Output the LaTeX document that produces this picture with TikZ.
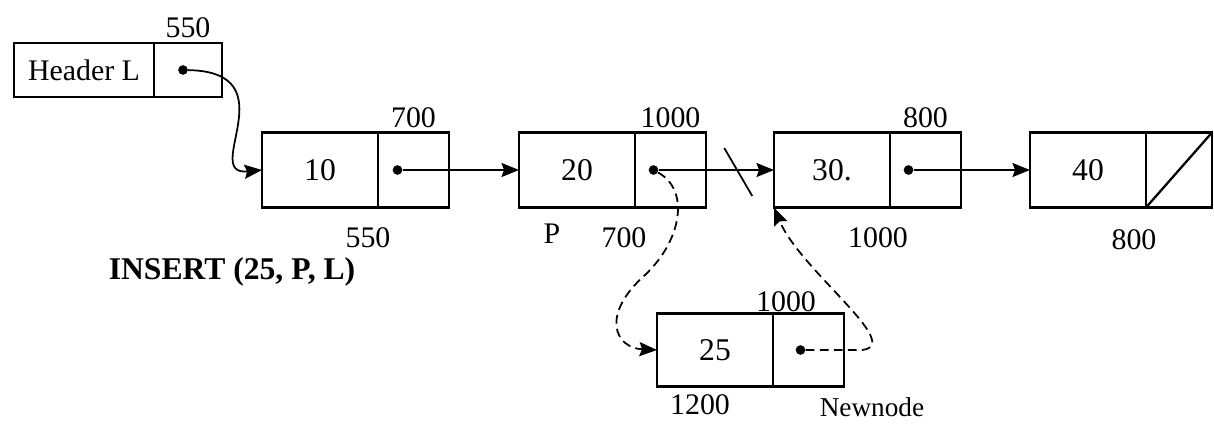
\documentclass[tikz,border=0pt]{standalone}
\usepackage{fontspec}
\setmainfont{Liberation Serif}
\usetikzlibrary{positioning,arrows.meta}

\begin{document}
\begin{tikzpicture}[
  x=0.2mm, y=-0.2mm,
  cell/.style={draw, line width=1.3pt, outer sep=0pt, inner sep=0pt, minimum height=1.5cm},
  data/.style={cell, minimum width=2.32cm, font=\fontsize{18}{20}\selectfont},
  ptr/.style={cell, minimum width=1.42cm},
  dot/.style={circle, fill, inner sep=0pt, minimum size=5.5pt},
  addr/.style={font=\fontsize{17}{19}\selectfont, inner sep=1pt},
  link/.style={-{Stealth[length=10pt, width=8pt, inset=1.5pt]}, line width=1pt},
  newlink/.style={link, dash pattern=on 5pt off 3pt},
]
\useasboundingbox (0,0) rectangle (1214,423);

% Header cell of list L.
\node[cell, minimum width=2.8cm, minimum height=1.08cm, font=\fontsize{17}{19}\selectfont] (hdr) at (84,70) {Header L};
\node[ptr, minimum width=1.36cm, minimum height=1.08cm, right=0pt of hdr] (hptr) {};
\node[dot] (hdot) at ([xshift=-1mm]hptr.center) {};

% The four list nodes, left to right.
\node[data] (d10) at (320,170) {10};
\node[ptr, right=0pt of d10] (p10) {};
\node[data] (d20) at (577,170) {20};
\node[ptr, right=0pt of d20] (p20) {};
\node[data] (d30) at (832,170) {30.};
\node[ptr, right=0pt of d30] (p30) {};
\node[data] (d40) at (1088,170) {40};
\node[ptr, minimum width=1.32cm, right=0pt of d40] (p40) {};
\draw[line width=1.3pt] (p40.south west) -- (p40.north east);

% The new node.
\node[data, minimum height=1.46cm] (d25) at (715,350) {25};
\node[ptr, minimum height=1.46cm, right=0pt of d25] (p25) {};

% Pointer dots.
\node[dot] (dot10) at ([xshift=-3.2mm]p10.center) {};
\node[dot] (dot20) at ([xshift=-3.4mm]p20.center) {};
\node[dot] (dot30) at ([xshift=-3.4mm]p30.center) {};
\node[dot] (dot25) at ([xshift=-1.6mm]p25.center) {};

% Addresses above the pointer cells.
\node[addr, above=1.5pt of hptr] {550};
\node[addr, above=1.5pt of p10] {700};
\node[addr, above=1.5pt of p20] {1000};
\node[addr, above=1.5pt of p30] {800};
\node[addr] at (786,302) {1000};

% Addresses below the nodes.
\node[addr] at (368,238) {550};
\node[addr] (plabel) at (552,234) {P};
\node[addr] at (624,238) {700};
\node[addr] at (878,238) {1000};
\node[addr] at (1134,240) {800};
\node[addr] at (700,405) {1200};
\node[font=\fontsize{15.5}{17}\selectfont] at (872,407) {Newnode};

\node[font=\bfseries\fontsize{18}{20}\selectfont] (cmd) at (232,272) {INSERT (25, P, L)};

% Links of the list.
\draw[link] (hdot) .. controls (290,72) and (200,176) .. (d10.west);
\draw[link] (dot10) -- (d20.west);
\draw[link] (dot20) -- (d30.west) coordinate[pos=0.69] (cut);
\draw[line width=1pt] (cut) +(-14,-22) -- +(14,26);
\draw[link] (dot30) -- (d40.west);

% Links set by the insertion.
\draw[newlink] (dot20) .. controls (690,190) and (682,240) .. (645,275)
  .. controls (600,315) and (615,348) .. (d25.west);
\draw[newlink] (dot25) -- (862,350) .. controls (905,345) and (800,270) .. (d30.south west);

\end{tikzpicture}
\end{document}
